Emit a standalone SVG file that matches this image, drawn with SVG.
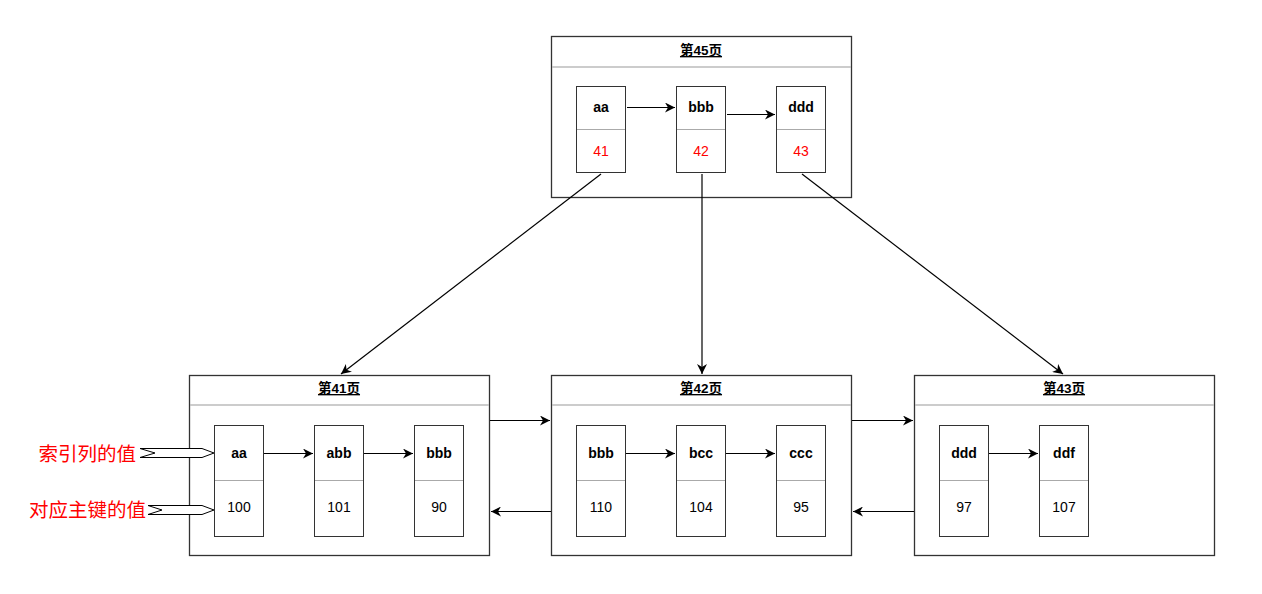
<svg xmlns="http://www.w3.org/2000/svg" width="1262" height="594" viewBox="0 0 1262 594">
<style>
.page{fill:#fff;stroke:#333;stroke-width:1.3}
.sep{stroke:#bbb;stroke-width:1.5}
.cell{fill:#fff;stroke:#333;stroke-width:1}
.div{stroke:#aaa;stroke-width:1}
.title{font-family:"Liberation Sans","Noto Sans CJK SC",sans-serif;font-size:13.5px;font-weight:bold;text-decoration:underline;text-anchor:middle;fill:#000}
.key{font-family:"Liberation Sans",sans-serif;font-size:14px;font-weight:bold;text-anchor:middle;fill:#000}
.val{font-family:"Liberation Sans",sans-serif;font-size:14px;text-anchor:middle;fill:#000}
.ptr{font-family:"Liberation Sans",sans-serif;font-size:14px;text-anchor:middle;fill:#f00}
.note{font-family:"Liberation Sans","Noto Sans CJK SC",sans-serif;font-size:19.5px;text-anchor:end;fill:#f00}
.edge{fill:none;stroke:#000;stroke-width:1.2}
.flex{fill:#fff;stroke:#000;stroke-width:1}
</style>
<defs>
<marker id="ah" markerWidth="12" markerHeight="10" refX="10" refY="5" orient="auto" markerUnits="userSpaceOnUse">
<path d="M0,0 L10,5 L0,10 L3,5 Z" fill="#000"/>
</marker>
</defs>

<g id="page45">
<rect class="page" x="551.5" y="36.5" width="300" height="161"/>
<line class="sep" x1="552" y1="67" x2="851" y2="67"/>
<text class="title" x="701" y="55">第45页</text>
<rect class="cell" x="576.5" y="86.5" width="49" height="86"/><line class="div" x1="577" y1="129.5" x2="625" y2="129.5"/>
<text class="key" x="601" y="112">aa</text><text class="ptr" x="601" y="156">41</text>
<rect class="cell" x="676.5" y="86.5" width="49" height="86"/><line class="div" x1="677" y1="129.5" x2="725" y2="129.5"/>
<text class="key" x="701" y="112">bbb</text><text class="ptr" x="701" y="156">42</text>
<rect class="cell" x="776.5" y="86.5" width="49" height="86"/><line class="div" x1="777" y1="129.5" x2="825" y2="129.5"/>
<text class="key" x="801" y="112">ddd</text><text class="ptr" x="801" y="156">43</text>
</g>

<g id="page41">
<rect class="page" x="189.5" y="375.5" width="300" height="180"/>
<line class="sep" x1="190" y1="405" x2="489" y2="405"/>
<text class="title" x="339" y="393">第41页</text>
<rect class="cell" x="214.5" y="425.5" width="49" height="111"/><line class="div" x1="215" y1="480.5" x2="263" y2="480.5"/>
<text class="key" x="239" y="458">aa</text><text class="val" x="239" y="512">100</text>
<rect class="cell" x="314.5" y="425.5" width="49" height="111"/><line class="div" x1="315" y1="480.5" x2="363" y2="480.5"/>
<text class="key" x="339" y="458">abb</text><text class="val" x="339" y="512">101</text>
<rect class="cell" x="414.5" y="425.5" width="49" height="111"/><line class="div" x1="415" y1="480.5" x2="463" y2="480.5"/>
<text class="key" x="439" y="458">bbb</text><text class="val" x="439" y="512">90</text>
</g>

<g id="page42">
<rect class="page" x="551.5" y="375.5" width="300" height="180"/>
<line class="sep" x1="552" y1="405" x2="851" y2="405"/>
<text class="title" x="701" y="393">第42页</text>
<rect class="cell" x="576.5" y="425.5" width="49" height="111"/><line class="div" x1="577" y1="480.5" x2="625" y2="480.5"/>
<text class="key" x="601" y="458">bbb</text><text class="val" x="601" y="512">110</text>
<rect class="cell" x="676.5" y="425.5" width="49" height="111"/><line class="div" x1="677" y1="480.5" x2="725" y2="480.5"/>
<text class="key" x="701" y="458">bcc</text><text class="val" x="701" y="512">104</text>
<rect class="cell" x="776.5" y="425.5" width="49" height="111"/><line class="div" x1="777" y1="480.5" x2="825" y2="480.5"/>
<text class="key" x="801" y="458">ccc</text><text class="val" x="801" y="512">95</text>
</g>

<g id="page43">
<rect class="page" x="914.5" y="375.5" width="300" height="180"/>
<line class="sep" x1="915" y1="405" x2="1214" y2="405"/>
<text class="title" x="1064" y="393">第43页</text>
<rect class="cell" x="939.5" y="425.5" width="49" height="111"/><line class="div" x1="940" y1="480.5" x2="988" y2="480.5"/>
<text class="key" x="964" y="458">ddd</text><text class="val" x="964" y="512">97</text>
<rect class="cell" x="1039.5" y="425.5" width="49" height="111"/><line class="div" x1="1040" y1="480.5" x2="1088" y2="480.5"/>
<text class="key" x="1064" y="458">ddf</text><text class="val" x="1064" y="512">107</text>
</g>

<g id="notes">
<text class="note" x="136" y="461">索引列的值</text>
<polygon class="flex" points="140,448.5 202,448.5 214,453 202,457.5 140,457.5 155,453"/>
<text class="note" x="146" y="517">对应主键的值</text>
<polygon class="flex" points="148,505.5 202,505.5 214,510 202,514.5 148,514.5 162,510"/>
</g>

<g id="connectors">
<line class="edge" x1="627" y1="107.5" x2="675" y2="107.5" marker-end="url(#ah)"/>
<line class="edge" x1="727" y1="114.5" x2="775" y2="114.5" marker-end="url(#ah)"/>
<line class="edge" x1="264" y1="453.5" x2="313" y2="453.5" marker-end="url(#ah)"/>
<line class="edge" x1="364" y1="453.5" x2="413" y2="453.5" marker-end="url(#ah)"/>
<line class="edge" x1="626" y1="453.5" x2="675" y2="453.5" marker-end="url(#ah)"/>
<line class="edge" x1="726" y1="453.5" x2="775" y2="453.5" marker-end="url(#ah)"/>
<line class="edge" x1="989" y1="453.5" x2="1038" y2="453.5" marker-end="url(#ah)"/>
<line class="edge" x1="601" y1="174" x2="341" y2="374" marker-end="url(#ah)"/>
<line class="edge" x1="702" y1="174" x2="702" y2="374" marker-end="url(#ah)"/>
<line class="edge" x1="802" y1="174" x2="1063" y2="374" marker-end="url(#ah)"/>
<line class="edge" x1="490" y1="420.5" x2="550" y2="420.5" marker-end="url(#ah)"/>
<line class="edge" x1="551" y1="511.5" x2="491" y2="511.5" marker-end="url(#ah)"/>
<line class="edge" x1="852" y1="420.5" x2="913" y2="420.5" marker-end="url(#ah)"/>
<line class="edge" x1="914" y1="511.5" x2="853" y2="511.5" marker-end="url(#ah)"/>
</g>
</svg>
